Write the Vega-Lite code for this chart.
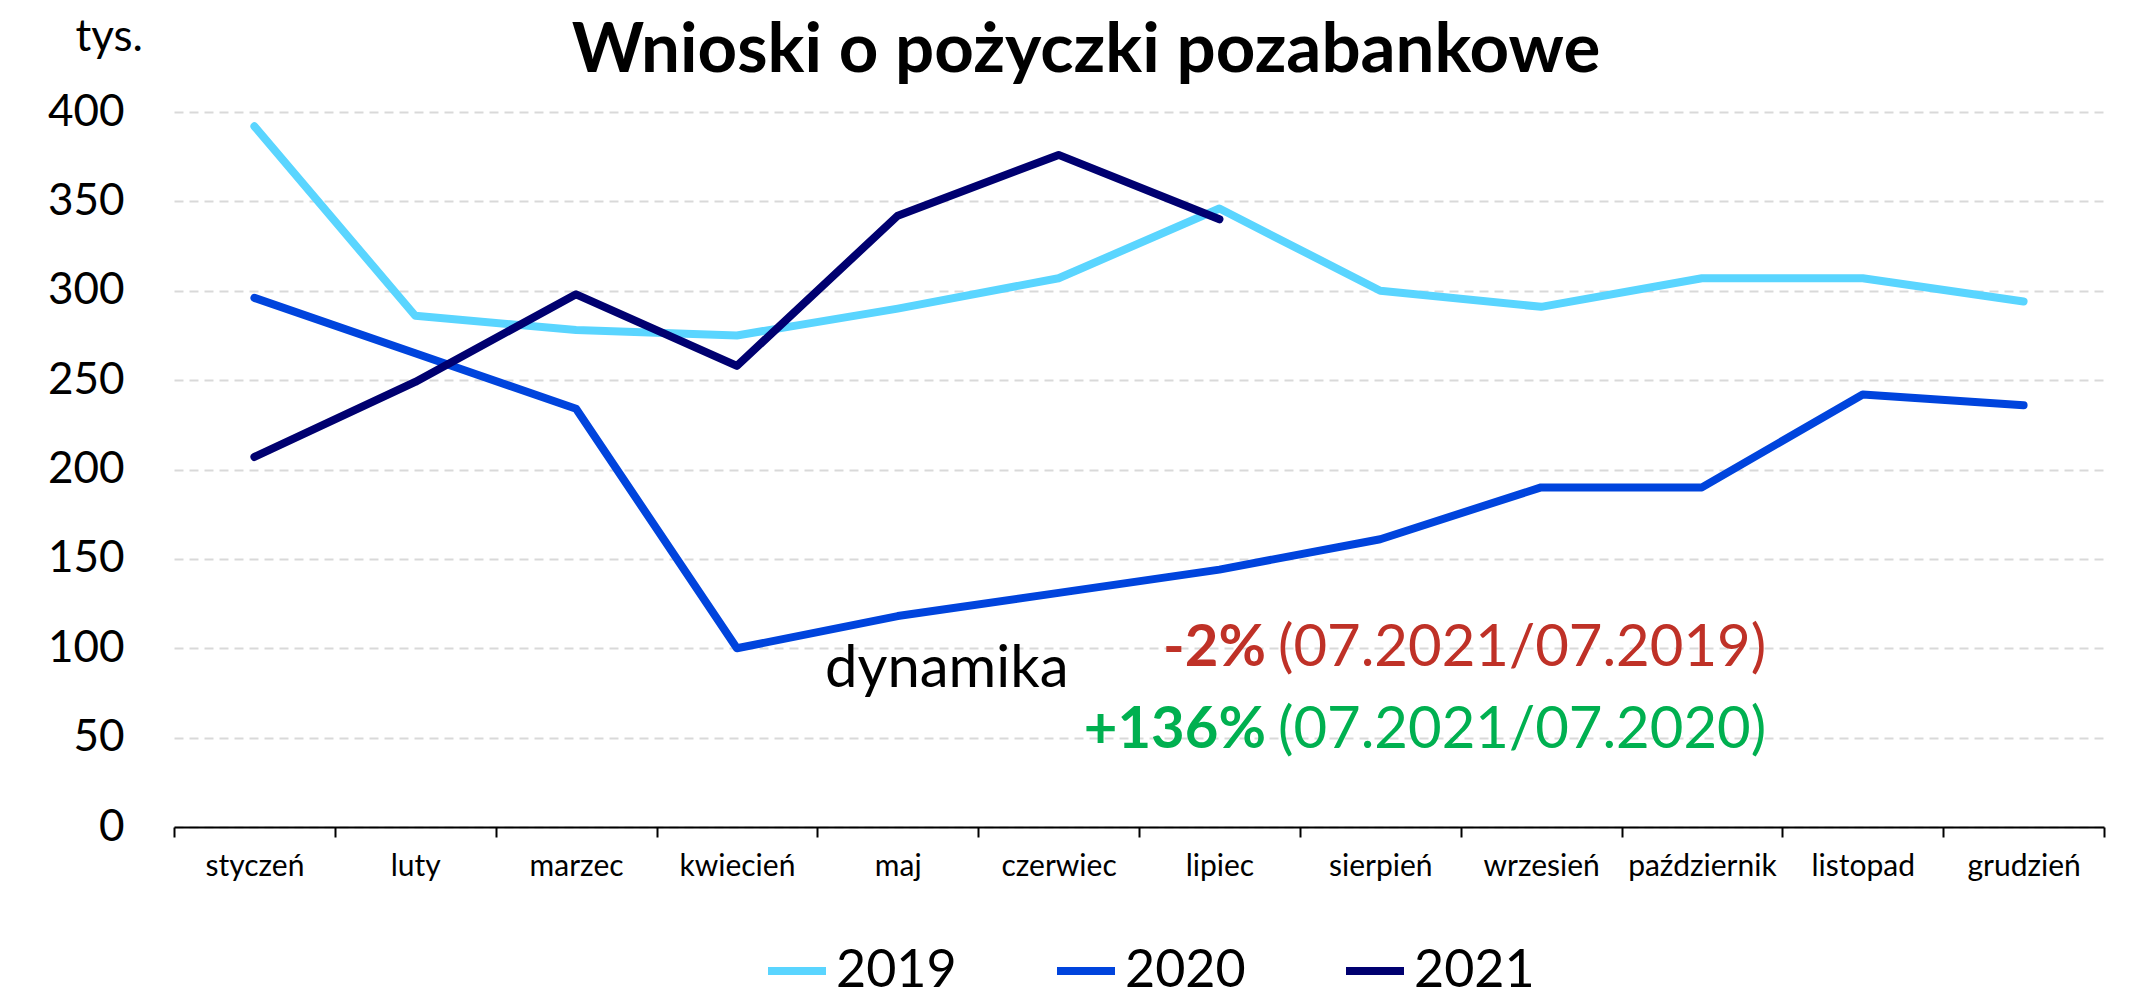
{
  "$schema": "https://vega.github.io/schema/vega-lite/v6.json",
  "width": 1930,
  "height": 715,
  "autosize": {"type": "none"},
  "padding": {"left": 174, "top": 112, "right": 26, "bottom": 170},
  "background": "white",
  "config": {
    "font": "Lato",
    "view": {"stroke": null},
    "legend": {"padding": 0}
  },
  "title": {
    "text": "Wnioski o pożyczki pozabankowe",
    "font": "Lato",
    "fontSize": 69,
    "fontWeight": "bold",
    "color": "black",
    "anchor": "middle",
    "frame": "group",
    "dx": -53,
    "dy": 81,
    "offset": 10
  },
  "datasets": {
    "series": [
      {"miesiac": "styczeń", "rok": "2019", "wartosc": 392},
      {"miesiac": "luty", "rok": "2019", "wartosc": 286},
      {"miesiac": "marzec", "rok": "2019", "wartosc": 278},
      {"miesiac": "kwiecień", "rok": "2019", "wartosc": 275},
      {"miesiac": "maj", "rok": "2019", "wartosc": 290},
      {"miesiac": "czerwiec", "rok": "2019", "wartosc": 307},
      {"miesiac": "lipiec", "rok": "2019", "wartosc": 346},
      {"miesiac": "sierpień", "rok": "2019", "wartosc": 300},
      {"miesiac": "wrzesień", "rok": "2019", "wartosc": 291},
      {"miesiac": "październik", "rok": "2019", "wartosc": 307},
      {"miesiac": "listopad", "rok": "2019", "wartosc": 307},
      {"miesiac": "grudzień", "rok": "2019", "wartosc": 294},
      {"miesiac": "styczeń", "rok": "2020", "wartosc": 296},
      {"miesiac": "luty", "rok": "2020", "wartosc": 265},
      {"miesiac": "marzec", "rok": "2020", "wartosc": 234},
      {"miesiac": "kwiecień", "rok": "2020", "wartosc": 100},
      {"miesiac": "maj", "rok": "2020", "wartosc": 118},
      {"miesiac": "czerwiec", "rok": "2020", "wartosc": 131},
      {"miesiac": "lipiec", "rok": "2020", "wartosc": 144},
      {"miesiac": "sierpień", "rok": "2020", "wartosc": 161},
      {"miesiac": "wrzesień", "rok": "2020", "wartosc": 190},
      {"miesiac": "październik", "rok": "2020", "wartosc": 190},
      {"miesiac": "listopad", "rok": "2020", "wartosc": 242},
      {"miesiac": "grudzień", "rok": "2020", "wartosc": 236},
      {"miesiac": "styczeń", "rok": "2021", "wartosc": 207},
      {"miesiac": "luty", "rok": "2021", "wartosc": 249},
      {"miesiac": "marzec", "rok": "2021", "wartosc": 298},
      {"miesiac": "kwiecień", "rok": "2021", "wartosc": 258},
      {"miesiac": "maj", "rok": "2021", "wartosc": 342},
      {"miesiac": "czerwiec", "rok": "2021", "wartosc": 376},
      {"miesiac": "lipiec", "rok": "2021", "wartosc": 340}
    ],
    "dyn": [{"miesiac": "maj", "wartosc": 78.6, "tekst": "dynamika"}],
    "red": [{"miesiac": "październik", "wartosc": 90.3, "mocny": "-2%", "reszta": "(07.2021/07.2019)"}],
    "green": [{"miesiac": "październik", "wartosc": 44, "mocny": "+136%", "reszta": "(07.2021/07.2020)"}]
  },
  "encoding": {
    "x": {
      "field": "miesiac",
      "type": "ordinal",
      "bandPosition": 0.5,
      "sort": ["styczeń", "luty", "marzec", "kwiecień", "maj", "czerwiec", "lipiec", "sierpień", "wrzesień", "październik", "listopad", "grudzień"],
      "scale": {"type": "band", "paddingInner": 0, "paddingOuter": 0,
        "domain": ["styczeń", "luty", "marzec", "kwiecień", "maj", "czerwiec", "lipiec", "sierpień", "wrzesień", "październik", "listopad", "grudzień"]},
      "axis": {
        "title": null,
        "labelAngle": 0,
        "labelFontSize": 30,
        "labelColor": "black",
        "labelPadding": 14,
        "domainColor": "black",
        "domainWidth": 2,
        "tickColor": "black",
        "tickWidth": 2,
        "tickSize": 10,
        "tickBand": "extent",
        "grid": false
      }
    },
    "y": {
      "field": "wartosc",
      "type": "quantitative",
      "scale": {"domain": [0, 400], "nice": false, "zero": true},
      "axis": {
        "title": "tys.",
        "titleAngle": 0,
        "titleX": -99,
        "titleY": -62,
        "titleAlign": "left",
        "titleBaseline": "alphabetic",
        "titleFontSize": 44,
        "titleFontWeight": "normal",
        "titleColor": "black",
        "values": [0, 50, 100, 150, 200, 250, 300, 350, 400],
        "labelFontSize": 44,
        "labelColor": "black",
        "labelPadding": 50,
        "ticks": false,
        "domain": false,
        "grid": true,
        "gridColor": "#D9D9D9",
        "gridDash": [9, 6],
        "gridWidth": 2
      }
    }
  },
  "layer": [
    {
      "data": {"name": "series"},
      "mark": {"type": "line", "strokeWidth": 8, "strokeCap": "round", "strokeJoin": "round"},
      "encoding": {
        "color": {
          "field": "rok",
          "type": "nominal",
          "scale": {"domain": ["2019", "2020", "2021"], "range": ["#5AD5FF", "#0044DD", "#000070"]},
          "legend": {
            "title": null,
            "orient": "none",
            "direction": "horizontal",
            "legendX": 590,
            "legendY": 826,
            "symbolType": "stroke",
            "symbolSize": 3364,
            "symbolStrokeWidth": 8,
            "labelFontSize": 52,
            "labelColor": "black",
            "labelOffset": 6,
            "columnPadding": 84,
            "labelLimit": 400
          }
        }
      }
    },
    {
      "data": {"name": "dyn"},
      "mark": {"type": "text", "fontSize": 58, "color": "black", "align": "center", "baseline": "alphabetic", "dx": 49},
      "encoding": {"text": {"field": "tekst"}}
    },
    {
      "data": {"name": "red"},
      "mark": {"type": "text", "fontSize": 58, "fontWeight": "bold", "color": "#BF3127", "align": "right", "baseline": "alphabetic", "dx": -436},
      "encoding": {"text": {"field": "mocny"}}
    },
    {
      "data": {"name": "red"},
      "mark": {"type": "text", "fontSize": 58, "color": "#BF3127", "align": "left", "baseline": "alphabetic", "dx": -424},
      "encoding": {"text": {"field": "reszta"}}
    },
    {
      "data": {"name": "green"},
      "mark": {"type": "text", "fontSize": 58, "fontWeight": "bold", "color": "#00B050", "align": "right", "baseline": "alphabetic", "dx": -436},
      "encoding": {"text": {"field": "mocny"}}
    },
    {
      "data": {"name": "green"},
      "mark": {"type": "text", "fontSize": 58, "color": "#00B050", "align": "left", "baseline": "alphabetic", "dx": -424},
      "encoding": {"text": {"field": "reszta"}}
    }
  ]
}
